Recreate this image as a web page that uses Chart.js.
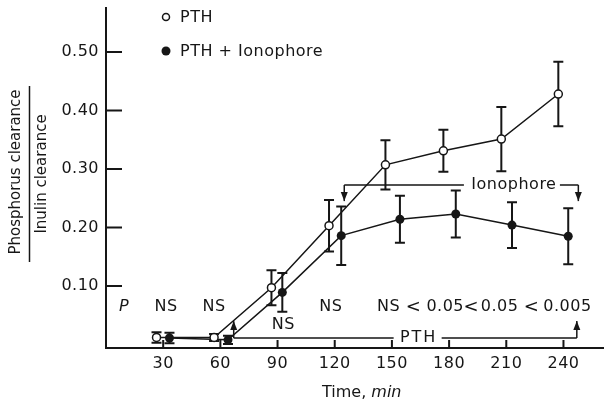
<!DOCTYPE html>
<html><head><meta charset="utf-8">
<script src="https://cdn.jsdelivr.net/npm/chart.js@4"></script>
<style>html,body{margin:0;padding:0;background:#fff}canvas{display:block}</style>
</head><body>
<canvas id="c" width="609" height="405"></canvas>
<script>
// ---- data ----
const seriesNames = ['PTH', 'PTH + Ionophore'];
const timesPTH  = [26.5, 56.7, 86.8, 117.0, 146.6, 177.0, 207.4, 237.3];
const valuesPTH = [0.012, 0.012, 0.097, 0.203, 0.307, 0.331, 0.351, 0.428];
const errPTH    = [0.009, 0.006, 0.030, 0.044, 0.042, 0.036, 0.055, 0.055];
const timesIono  = [33.3, 64.0, 92.5, 123.4, 154.2, 183.5, 213.0, 242.5];
const valuesIono = [0.011, 0.008, 0.089, 0.186, 0.214, 0.223, 0.204, 0.185];
const errIono    = [0.009, 0.007, 0.033, 0.050, 0.040, 0.040, 0.039, 0.048];
const xTicks = [30, 60, 90, 120, 150, 180, 210, 240];
const yTicks = [0.10, 0.20, 0.30, 0.40, 0.50];
const xTitle = ['Time, ', 'min'];
const yTitleTop = 'Phosphorus clearance';
const yTitleBottom = 'Inulin clearance';
const pHeader = 'P';
const pTexts = ['NS', 'NS', 'NS', 'NS', 'NS', '<', '0.05', '<', '0.05', '<', '0.005'];
const bracketPTH = 'PTH';
const bracketIono = 'Ionophore';

const INK = '#161616';
const FONT = 'DejaVu Sans';

function arrow(ctx, x, yBase, yTip) {
  ctx.beginPath();
  ctx.moveTo(x, yBase); ctx.lineTo(x, yTip); ctx.stroke();
  const d = yTip < yBase ? 1 : -1;
  ctx.beginPath();
  ctx.moveTo(x, yTip);
  ctx.lineTo(x - 3.5, yTip + d * 9);
  ctx.lineTo(x + 3.5, yTip + d * 9);
  ctx.closePath(); ctx.fill();
}

const figPlugin = {
  id: 'fig',
  beforeDraw(chart) {
    chart.ctx.letterSpacing = '0.5px';
  },
  beforeDatasetsDraw(chart) {
    const ctx = chart.ctx;
    const xs = chart.scales.x, ys = chart.scales.y;
    const errs = [errPTH, errIono];
    ctx.save();
    ctx.strokeStyle = INK; ctx.lineWidth = 2;
    chart.data.datasets.forEach((ds, di) => {
      ds.data.forEach((p, i) => {
        const x = xs.getPixelForValue(p.x);
        const y1 = ys.getPixelForValue(p.y + errs[di][i]);
        const y2 = ys.getPixelForValue(p.y - errs[di][i]);
        ctx.beginPath();
        ctx.moveTo(x, y1); ctx.lineTo(x, y2);
        ctx.moveTo(x - 5, y1); ctx.lineTo(x + 5, y1);
        ctx.moveTo(x - 5, y2); ctx.lineTo(x + 5, y2);
        ctx.stroke();
      });
    });
    ctx.restore();
  },
  afterDraw(chart) {
    const ctx = chart.ctx;
    const xs = chart.scales.x, ys = chart.scales.y;
    const X = v => xs.getPixelForValue(v), Y = v => ys.getPixelForValue(v);
    const area = chart.chartArea;
    ctx.save();
    ctx.strokeStyle = INK; ctx.fillStyle = INK; ctx.lineWidth = 2;
    ctx.letterSpacing = '0.5px';
    // inward ticks
    ctx.beginPath();
    yTicks.forEach(v => { ctx.moveTo(area.left, Y(v)); ctx.lineTo(area.left + 16, Y(v)); });
    xTicks.forEach(v => { ctx.moveTo(X(v), area.bottom); ctx.lineTo(X(v), area.bottom - 8); });
    ctx.stroke();

    // P-value row
    ctx.textBaseline = 'middle';
    const rowY = Y(0.064);
    ctx.textAlign = 'center';
    ctx.font = `italic 16px "${FONT}"`;
    ctx.fillText(pHeader, X(9.5), rowY);
    ctx.font = `16px "${FONT}"`;
    // [time position, level, align]
    const pPos = [[31.5, 0.064, 'center'], [56.7, 0.064, 'center'], [93, 0.034, 'center'], [118, 0.064, 'center'],
                  [142.2, 0.064, 'left'], [157.2, 0.064, 'left'], [168.1, 0.064, 'left'], [187.6, 0.064, 'left'],
                  [196.6, 0.064, 'left'], [219.2, 0.064, 'left'], [229.4, 0.064, 'left']];
    pTexts.forEach((t, i) => {
      ctx.textAlign = pPos[i][2];
      ctx.font = t === '<' ? `18px "${FONT}"` : `16px "${FONT}"`;
      ctx.letterSpacing = t === '<' ? '0px' : '0.5px';
      ctx.fillText(t, X(pPos[i][0]), Y(pPos[i][1]));
    });
    ctx.font = `16px "${FONT}"`;
    ctx.letterSpacing = '0.5px';
    ctx.textAlign = 'center';

    // PTH bracket
    ctx.lineWidth = 1.5;
    const pthY = Y(0.011), pthTip = Y(0.040);
    const pthL = X(67), pthR = X(247), pthC = X(163.5);
    ctx.beginPath();
    ctx.moveTo(pthL, pthY); ctx.lineTo(pthC - 24, pthY);
    ctx.moveTo(pthC + 24, pthY); ctx.lineTo(pthR, pthY);
    ctx.stroke();
    arrow(ctx, pthL, pthY, pthTip);
    arrow(ctx, pthR, pthY, pthTip);
    ctx.letterSpacing = '2px';
    ctx.fillText(bracketPTH, pthC + 1, pthY);
    ctx.letterSpacing = '0.5px';

    // Ionophore bracket
    const ioY = Y(0.2726), ioTip = Y(0.245);
    const ioL = X(125), ioR = X(247.8), ioC = X(214);
    ctx.beginPath();
    ctx.moveTo(ioL, ioY); ctx.lineTo(ioC - 50, ioY);
    ctx.moveTo(ioC + 46, ioY); ctx.lineTo(ioR, ioY);
    ctx.stroke();
    arrow(ctx, ioL, ioY, ioTip);
    arrow(ctx, ioR, ioY, ioTip);
    ctx.fillText(bracketIono, ioC, ioY);

    // legend
    ctx.textAlign = 'left';
    ctx.lineWidth = 1.5;
    ctx.beginPath(); ctx.arc(166, 17, 3.5, 0, Math.PI * 2);
    ctx.fillStyle = '#fff'; ctx.fill(); ctx.stroke();
    ctx.fillStyle = INK;
    ctx.beginPath(); ctx.arc(166, 51, 4.5, 0, Math.PI * 2); ctx.fill();
    ctx.fillText(seriesNames[0], 180, 18);
    ctx.fillText(seriesNames[1], 180, 52);

    // x title
    ctx.letterSpacing = '0px';
    ctx.textBaseline = 'alphabetic';
    ctx.font = `16px "${FONT}"`;
    const tx = 322, ty = 397;
    ctx.fillText(xTitle[0], tx, ty);
    const w0 = ctx.measureText(xTitle[0]).width;
    ctx.font = `italic 16px "${FONT}"`;
    ctx.fillText(xTitle[1], tx + w0, ty);

    // y title (fraction)
    ctx.font = `15px "${FONT}"`;
    ctx.textAlign = 'center'; ctx.textBaseline = 'middle';
    ctx.save(); ctx.translate(16, 172); ctx.rotate(-Math.PI / 2);
    ctx.fillText(yTitleTop, 0, 0); ctx.restore();
    ctx.save(); ctx.translate(42, 174); ctx.rotate(-Math.PI / 2);
    ctx.fillText(yTitleBottom, 0, 0); ctx.restore();
    ctx.lineWidth = 1.5;
    ctx.beginPath(); ctx.moveTo(29.5, 86); ctx.lineTo(29.5, 262); ctx.stroke();
    ctx.restore();
  }
};

new Chart(document.getElementById('c'), {
  type: 'line',
  data: {
    datasets: [
      { label: seriesNames[0], data: timesPTH.map((t, i) => ({ x: t, y: valuesPTH[i] })),
        borderColor: INK, borderWidth: 1.5, pointRadius: 4, pointBorderWidth: 1.5,
        pointBackgroundColor: '#fff', pointBorderColor: INK, tension: 0, order: 1 },
      { label: seriesNames[1], data: timesIono.map((t, i) => ({ x: t, y: valuesIono[i] })),
        borderColor: INK, borderWidth: 1.5, pointRadius: 4.5, pointBorderWidth: 0,
        pointBackgroundColor: INK, pointBorderColor: INK, tension: 0, order: 2 }
    ]
  },
  options: {
    responsive: false, animation: false, devicePixelRatio: 1,
    layout: { padding: { top: 8, left: 0, right: 0, bottom: 0 } },
    plugins: { legend: { display: false }, tooltip: { enabled: false } },
    elements: { line: { fill: false } },
    scales: {
      x: {
        type: 'linear', min: 0, max: 261,
        afterBuildTicks: s => { s.ticks = xTicks.map(v => ({ value: v })); },
        afterFit: s => { s.height = 57; s.paddingLeft = 0; s.paddingRight = 0; },
        grid: { display: false, drawTicks: false },
        border: { display: true, color: INK, width: 2 },
        ticks: { color: INK, font: { family: FONT, size: 16 }, padding: 6, maxRotation: 0, autoSkip: false,
                 callback: v => String(v) }
      },
      y: {
        type: 'linear', min: -0.006, max: 0.575,
        afterBuildTicks: s => { s.ticks = yTicks.map(v => ({ value: v })); },
        afterFit: s => { s.width = 106; s.paddingTop = 0; s.paddingBottom = 0; },
        grid: { display: false, drawTicks: false },
        border: { display: true, color: INK, width: 2 },
        ticks: { color: INK, font: { family: FONT, size: 16 }, padding: 7, autoSkip: false,
                 callback: v => Number(v).toFixed(2) }
      }
    }
  },
  plugins: [figPlugin]
});
</script>
</body></html>
